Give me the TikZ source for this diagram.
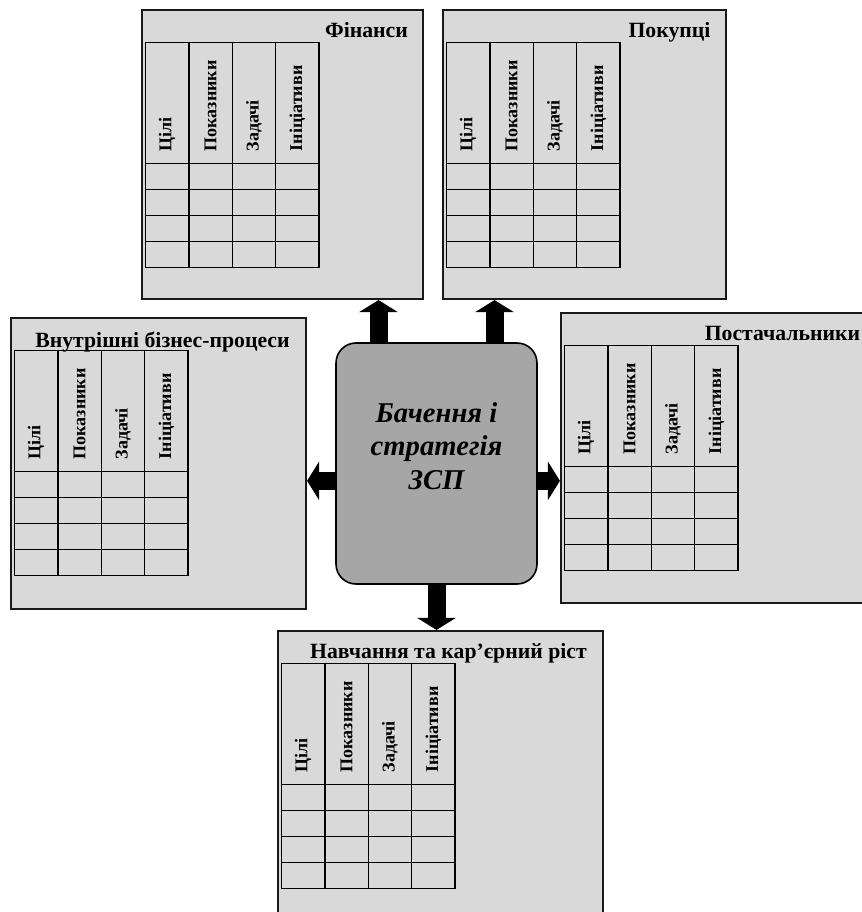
\documentclass[tikz,border=0pt]{standalone}
\usepackage{fontspec}
\setmainfont{Liberation Serif}
\usepackage[]{tikz}
\usetikzlibrary{arrows.meta}
\usetikzlibrary{positioning}
\definecolor{panelgray}{RGB}{217,217,217}
\definecolor{coregray}{RGB}{166,166,166}
\tikzset{panel/.style = {draw=black!90, line width=1.6pt, fill=panelgray, inner sep=0}}
\tikzset{core/.style = {draw=black, line width=1.2pt, fill=coregray, rounded corners=15pt, minimum width=150.75pt, minimum height=180.75pt}}
\tikzset{coretext/.style = {align=center, inner sep=0, font=\bfseries\itshape\fontsize{21.5}{25}\selectfont}}
\tikzset{ptitle/.style = {anchor=base, inner sep=0, font=\bfseries\fontsize{16.3}{18}\selectfont}}
\tikzset{colhead/.style = {anchor=west, rotate=90, inner sep=0, font=\bfseries\fontsize{13.5}{15}\selectfont}}
\tikzset{grid/.style = {line width=1.1pt}}
\tikzset{bigarrow/.style = {line width=13.5pt, -{Triangle[width=28.5pt, length=9pt]}}}
\newcommand\bsctable[1]{%
    \begin{scope}[shift={(#1.north west)}, shift={(4.5,33.5)}]
        \draw[grid] (0,0) rectangle (173.5,225);
        \foreach \i in {1,2,3} \draw[grid] (\i*43.4,0) -- (\i*43.4,225);
        \foreach \j in {0,...,3} \draw[grid] (0,121+\j*26) -- (173.5,121+\j*26);
        \foreach \t [count=\k] in {Цілі,Показники,Задачі,Ініціативи}
            \node[colhead] at ({(\k-0.5)*43.4},109) {\t};
    \end{scope}}

\begin{document}
\begin{tikzpicture}[x=0.75pt, y=-0.75pt]
        \useasboundingbox (0,0) rectangle (861,912);
        % perspectives
        \node[panel, minimum width=210.75pt, minimum height=216.75pt] (fin) at (282.5,154.5) {};
        \node[panel, minimum width=212.25pt, minimum height=216.75pt] (cus) at (584.5,154.5) {};
        \node[panel, minimum width=221.25pt, minimum height=218.25pt] (int) at (158.5,463.5) {};
        \node[panel, minimum width=231.75pt, minimum height=217.5pt] (sup) at (715.5,458) {};
        \node[panel, minimum width=243.75pt, minimum height=220.5pt] (lrn) at (440.5,778) {};
        \node[ptitle] (fint) at (366.5,38) {Фінанси};
        \node[ptitle] (cust) at (669.5,38) {Покупці};
        \node[ptitle] (intt) at (162.5,347) {Внутрішні бізнес-процеси};
        \node[ptitle] (supt) at (782.5,340) {Постачальники};
        \node[ptitle] (lrnt) at (448.5,658) {Навчання та кар’єрний ріст};
        \foreach \p in {fin,cus,int,sup,lrn} \bsctable{\p};
        % vision and strategy
        \node[core] (ctr) at (436.5,463.5) {};
        \node[coretext] (ctrt) at ([yshift=13pt]ctr.center) {Бачення і\\стратегія\\ЗСП};
        \coordinate (fa) at ([xshift=-43.5pt]ctr.north);
        \coordinate (ca) at ([xshift=43.5pt]ctr.north);
        \coordinate (ma) at ([yshift=-13pt]ctr.center);
        \draw[bigarrow] (fa) -- (fa |- fin.south);
        \draw[bigarrow] (ca) -- (ca |- cus.south);
        \draw[bigarrow] (ctr.west |- ma) -- (int.east |- ma);
        \draw[bigarrow] (ctr.east |- ma) -- (sup.west |- ma);
        \draw[bigarrow] (ctr.south) -- (ctr.south |- lrn.north);
    \end{tikzpicture}
\end{document}
